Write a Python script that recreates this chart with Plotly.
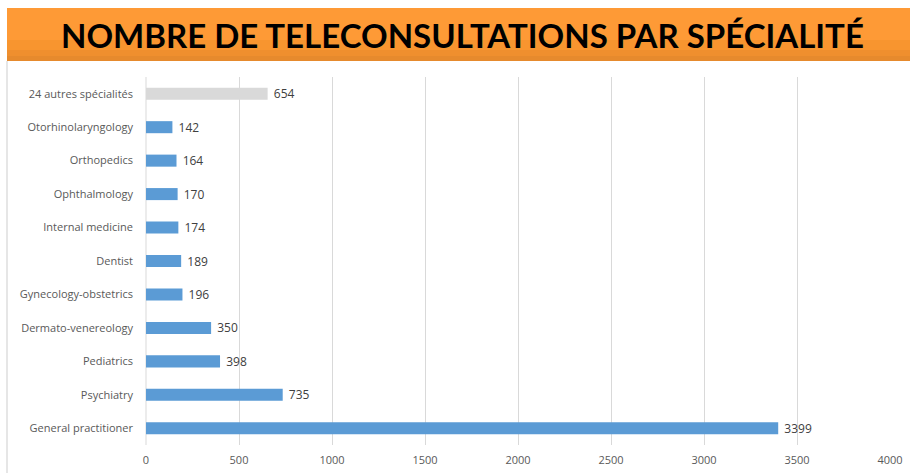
import plotly.graph_objects as go

categories = ["General practitioner", "Psychiatry", "Pediatrics", "Dermato-venereology",
              "Gynecology-obstetrics", "Dentist", "Internal medicine", "Ophthalmology",
              "Orthopedics", "Otorhinolaryngology", "24 autres spécialités"]
values = [3399, 735, 398, 350, 196, 189, 174, 170, 164, 142, 654]
bar_colors = ["#5B9BD5"] * 10 + ["#D9D9D9"]
x_ticks = [0, 500, 1000, 1500, 2000, 2500, 3000, 3500, 4000]
title_text = "NOMBRE DE TELECONSULTATIONS PAR SPÉCIALITÉ"

W, H = 910, 473
L, R, T, B = 146, 20, 77, 28
pw, ph = W - L - R, H - T - B

def px(x):
    return (x - L) / pw

def py(y):
    return (H - B - y) / ph

fig = go.Figure(go.Bar(
    x=values, y=categories, orientation="h",
    marker=dict(color=bar_colors, line=dict(width=0)),
    width=0.36,
    text=["\u00a0" + str(v) for v in values], textposition="outside",
    constraintext="none",
    textfont=dict(family="Open Sans", size=12, color="#404040"),
    cliponaxis=False,
))

# banner with a soft vertical gradient
bands = [("#FE9A36", 8, 40), ("#F8952F", 40, 50), ("#EF8F2E", 50, 56), ("#E68A2D", 56, 61)]
shapes = []
for col, y0, y1 in bands:
    shapes.append(dict(type="rect", xref="paper", yref="paper", x0=px(7), x1=px(910),
                       y0=py(y1), y1=py(y0), fillcolor=col, line=dict(width=0), layer="above"))
shapes += [
    dict(type="rect", xref="paper", yref="paper", x0=px(6), x1=px(8), y0=py(473), y1=py(61),
         fillcolor="#E6E6E6", line=dict(width=0), layer="above"),
    dict(type="line", xref="paper", yref="paper", x0=px(146), x1=px(146), y0=0, y1=1,
         line=dict(color="#D9D9D9", width=1), layer="below"),
]

fig.update_layout(
    template="none",
    width=W, height=H,
    margin=dict(l=L, r=R, t=T, b=B),
    paper_bgcolor="white", plot_bgcolor="white",
    showlegend=False,
    xaxis=dict(range=[0, 4000], tickvals=x_ticks, showgrid=True, gridcolor="#D9D9D9",
               gridwidth=1, zeroline=False, showline=False, ticks="", ticklabelstandoff=7,
               automargin=False,
               tickfont=dict(family="Open Sans", size=11, color="#595959")),
    yaxis=dict(categoryorder="array", categoryarray=categories, range=[-0.5, 10.5],
               showgrid=False, showline=False, zeroline=False, ticks="", ticklabelstandoff=12,
               automargin=False,
               tickfont=dict(family="Open Sans", size=11, color="#595959")),
    shapes=shapes,
    annotations=[
        dict(text="<b>" + title_text + "</b>", xref="paper", yref="paper",
             x=px(462), y=py(35), showarrow=False, xanchor="center", yanchor="middle",
             font=dict(family="Lato", size=33, color="#000000")),
    ],
)

fig.write_html("out.html", config={"displayModeBar": False},
               post_script="document.body.style.margin='0px';")
